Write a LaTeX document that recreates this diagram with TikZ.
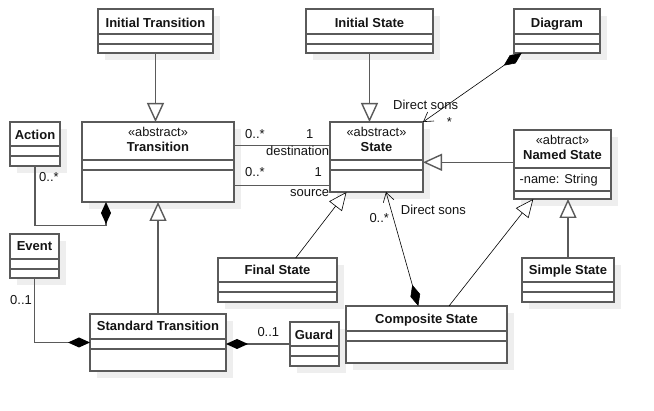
\documentclass[tikz,border=0pt]{standalone}
\usepackage{fontspec}
\setmainfont{Liberation Sans}
\usetikzlibrary{arrows.meta}
\definecolor{bordc}{RGB}{90,90,90}
\definecolor{shadc}{RGB}{238,238,238}
\definecolor{txtc}{RGB}{20,20,20}
\tikzset{
  cls/.style={draw=bordc, line width=1.4pt, fill=white, inner sep=0pt, outer sep=0pt, rectangle},
  cline/.style={draw=bordc, line width=1.4pt},
  shad/.style={fill=shadc},
  ttl/.style={font=\fontsize{13}{15}\selectfont\bfseries, text=txtc, anchor=base, inner sep=0pt},
  ster/.style={font=\fontsize{12.8}{14}\selectfont, text=txtc, anchor=base, inner sep=0pt},
  attr/.style={font=\fontsize{12.8}{14}\selectfont, text=txtc, anchor=base west, inner sep=0pt},
  lbl/.style={font=\fontsize{13}{15}\selectfont, text=txtc, anchor=base west, inner sep=0pt},
  gen/.style={draw=bordc, line width=1.4pt, -{Triangle[length=19pt, width=17pt, fill=white]}},
  genthin/.style={draw=black, line width=0.6pt, -{Triangle[length=18pt, width=16pt, fill=white]}},
  assoc/.style={draw=bordc, line width=1.4pt},
  comp/.style={draw=bordc, line width=1.4pt, -{Diamond[length=22pt, width=10pt, color=black]}},
  navcomp/.style={draw=black, line width=0.6pt, {Diamond[length=22pt, width=10pt, color=black]}-{Straight Barb[length=9pt, width=11pt]}},
}
% name, x1, y1, x2, y2, line1, line2
\newcommand\umlclass[7]{%
  \fill[shad] (#2+7,#3+7) rectangle (#4+7,#5+7);
  \node[cls, anchor=north west, minimum width=#4pt-#2pt, minimum height=#5pt-#3pt] (#1) at (#2,#3) {};
  \draw[cline] (#2,#6) -- (#4,#6);
  \draw[cline] (#2,#7) -- (#4,#7);
}
\begin{document}
\begin{tikzpicture}[x=1pt, y=-1pt]
\useasboundingbox[fill=white] (0,0) rectangle (654,411);

% classes
\umlclass{itr}{98}{9}{213}{53}{34}{44}
\umlclass{ist}{306}{9}{433}{53}{34}{44}
\umlclass{dia}{514}{9}{600}{53}{34}{44}
\umlclass{act}{10}{122}{60}{166}{146}{156}
\umlclass{tr}{82}{122}{234}{202}{160}{170}
\umlclass{st}{330}{122}{423}{192}{160}{170}
\umlclass{nst}{514}{130}{611}{199}{168}{191}
\umlclass{ev}{10}{234}{59}{278}{259}{269}
\umlclass{fst}{218}{258}{337}{302}{282}{292}
\umlclass{sst}{522}{258}{614}{302}{282}{292}
\umlclass{std}{90}{314}{226}{371}{339}{349}
\umlclass{gd}{290}{322}{339}{366}{346}{356}
\umlclass{cst}{346}{306}{507}{363}{331}{341}

% class texts
\node[ttl] (itr-t) at (155.5,27.3) {Initial Transition};
\node[ttl] (ist-t) at (369.5,27.3) {Initial State};
\node[ttl] (dia-t) at (557,27.3) {Diagram};
\node[ttl] (act-t) at (35,139.5) {Action};
\node[ster] (tr-s) at (158,137) {«abstract»};
\node[ttl] (tr-t) at (158,152) {Transition};
\node[ster] (st-s) at (376.5,136.7) {«abstract»};
\node[ttl] (st-t) at (376.5,151.7) {State};
\node[ster] (nst-s) at (562.5,144.3) {«abtract»};
\node[ttl] (nst-t) at (562.5,160) {Named State};
\node[attr] (nst-a) at (519.5,183.7) {-name: String};
\node[ttl] (ev-t) at (34.5,251) {Event};
\node[ttl] (fst-t) at (277.5,275) {Final State};
\node[ttl] (sst-t) at (568,275) {Simple State};
\node[ttl] (std-t) at (158,331) {Standard Transition};
\node[ttl] (gd-t) at (314,339.3) {Guard};
\node[ttl] (cst-t) at (426.5,323.3) {Composite State};

% helper coordinates
\coordinate (dy) at (0,145.7);
\coordinate (sy) at (0,185.7);
\coordinate (ny) at (0,162.3);
\coordinate (ac) at (106,225.7);

% generalizations
\draw[gen] (itr.south) -- (itr.south |- tr.north);
\draw[gen] (ist.south) -- (ist.south |- st.north);
\draw[gen] (std.north) -- (std.north |- tr.south);
\draw[gen] (nst.west |- ny) -- (st.east |- ny);
\draw[gen] (sst.north) -- (sst.north |- nst.south);
\draw[genthin] ([xshift=18.2pt]fst.north) -- ([xshift=-30pt]st.south);
\draw[genthin] ([xshift=22.5pt]cst.north) -- ([xshift=-29.2pt]nst.south);

% associations
\draw[assoc] (tr.east |- dy) -- (st.west |- dy);
\draw[assoc] (tr.east |- sy) -- (st.west |- sy);

% compositions
\draw[comp] (act.south) |- (ac) -- (ac |- tr.south);
\draw[comp] (ev.south) |- (std.west);
\draw[comp] (gd.west) -- (std.east |- gd.west);
\draw[navcomp] ([xshift=-35.3pt]dia.south) -- (st.north east);
\draw[navcomp] ([xshift=-8.2pt]cst.north) -- ([xshift=9.5pt]st.south);

% labels
\node[lbl] (l1) at (245,138.3) {0..*};
\node[lbl] (l2) at (306,138.3) {1};
\node[lbl] (l3) at (266,156) {destination};
\node[lbl] (l4) at (245,176.7) {0..*};
\node[lbl] (l5) at (314.3,176.7) {1};
\node[lbl] (l6) at (290,196.7) {source};
\node[lbl] (l7) at (39,181.7) {0..*};
\node[lbl] (l8) at (10,305) {0..1};
\node[lbl] (l9) at (257.3,337) {0..1};
\node[lbl] (l10) at (393,110) {Direct sons};
\node[lbl] (l11) at (446.7,126.4) {*};
\node[lbl] (l12) at (369.3,222.7) {0..*};
\node[lbl] (l13) at (400.7,214.3) {Direct sons};
\end{tikzpicture}
\end{document}
